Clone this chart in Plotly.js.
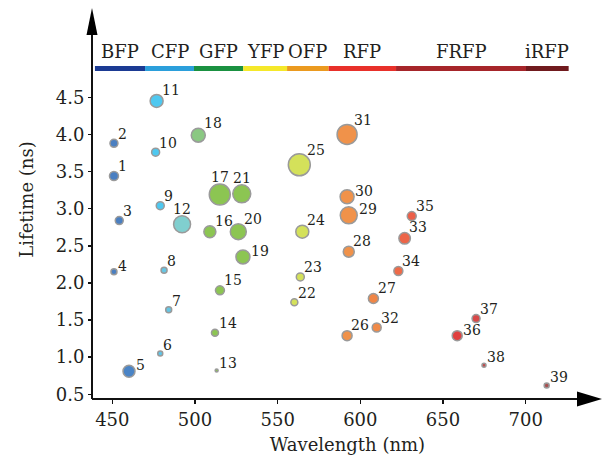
<!DOCTYPE html>
<html>
<head>
<meta charset="utf-8">
<script src="https://cdn.plot.ly/plotly-3.0.1.min.js"></script>
<style>html,body{margin:0;padding:0;background:#fff;}#chart{width:603px;height:456px;}</style>
</head>
<body>
<div id="chart"></div>
<script>
// ---- data ----
const labels = ['1','2','3','4','5','6','7','8','9','10','11','12','13','14','15','16','17','18','19','20',
  '21','22','23','24','25','26','27','28','29','30','31','32','33','34','35','36','37','38','39'];
const wavelength = [451, 451, 454.2, 451, 460.1, 479, 484.1, 481.3, 479, 476.2, 476.8, 492.2, 513.1, 512.1, 515.1,
  509, 515, 502, 529, 526.2, 528.3, 560.1, 563.7, 564.9, 563.1, 592, 607.9, 593, 593, 592, 592, 609.9, 626.8, 623,
  631.1, 658.6, 670, 674.8, 712.7];
const lifetime = [3.44, 3.88, 2.84, 2.15, 0.81, 1.05, 1.64, 2.17, 3.04, 3.76, 4.45, 2.79, 0.82, 1.33, 1.90, 2.69,
  3.19, 3.99, 2.35, 2.69, 3.20, 1.74, 2.08, 2.69, 3.59, 1.29, 1.79, 2.42, 2.91, 3.16, 4.00, 1.40, 2.60, 2.16, 2.90,
  1.29, 1.52, 0.89, 0.62];
const brightness = [9, 8, 8, 6, 12, 5, 6, 6, 8, 8, 13, 17, 3, 7, 9, 12, 21, 14, 14, 16, 18, 7, 8, 13, 22, 10, 10,
  11, 17, 14, 20, 9, 11.5, 9, 9, 10, 8, 4, 5];
const bandNames = ['BFP', 'CFP', 'GFP', 'YFP', 'OFP', 'RFP', 'FRFP', 'iRFP'];
const bandStart = [439.5, 469.8, 499.4, 529.2, 555.7, 580.9, 621.6, 700.2];
const bandEnd = [469.8, 499.4, 529.2, 555.7, 580.9, 621.6, 700.2, 726.0];
const xTicks = [450, 500, 550, 600, 650, 700];
const yTicks = [0.5, 1.0, 1.5, 2.0, 2.5, 3.0, 3.5, 4.0, 4.5];

// ---- styles ----
const pointColors = ['#4a7fc1','#4a7fc1','#4a7fc1','#4a7fc1','#4a84c6',
  '#5cc6ea','#66c6e4','#66c6e4','#4ec8f0','#4ec8f0','#4ec8f0','#80cfcf',
  '#8cc552','#8cc552','#8cc552','#8cc552','#8cc552','#8ac882','#8cc552','#8cc552','#8cc552',
  '#d4e15a','#d4e15a','#d4e15a','#d4e15a',
  '#f0924a','#f08646','#f0924a','#f0924a','#f0924a','#f0924a','#f08a48',
  '#ec6548','#ee6a48','#ec5f48','#e0403f','#d84848','#c04a4a','#a85050'];
const bandColors = ['#1b3a93', '#2b9fdb', '#1a9141', '#f5e82a', '#eb9a1f', '#e8302a', '#a6252a', '#701a1e'];
const labelPlace = ['ne','ne','ne','e','e','ne','ne','ne','ne','ne','ne','n','ne','ne','ne','ne','n','ne','e','ne',
  'n','ne','ne','ne','ne','ne','ne','ne','e','e','ne','ne','ne','ne','ne','e','ne','ne','ne'];

const W = 603, H = 456, ML = 92, MB = 57;
const PW = W - ML, PH = H - MB;
const px2x = p => (p - ML) / PW;
const py2y = p => (PH - p) / PH;
const TXT = '#231f20';
const FONT = 'DejaVu Serif';

const trace = {
  type: 'scatter', mode: 'markers',
  x: wavelength, y: lifetime,
  marker: { size: brightness, sizemode: 'diameter', sizeref: 1, color: pointColors,
    line: { color: '#9a9a9a', width: 1.5 }, opacity: 1 },
  hoverinfo: 'skip', cliponaxis: false
};

const annotations = [];
labels.forEach((t, i) => {
  const r = brightness[i] / 2 + 0.75;
  const pl = labelPlace[i];
  let a = { x: wavelength[i], y: lifetime[i], xref: 'x', yref: 'y', text: t, showarrow: false,
    font: { family: FONT, size: 14, color: TXT }, borderpad: 0, yanchor: 'bottom' };
  if (pl === 'ne') { a.xanchor = 'left'; a.xshift = 0.5 * r + 0.5; a.yshift = 0.75 * r - 3; }
  else if (pl === 'e') { a.xanchor = 'left'; a.xshift = r - 0.5; a.yshift = -3; }
  else { a.xanchor = 'center'; a.xshift = 0; a.yshift = r - 3; }
  annotations.push(a);
});
bandNames.forEach((n, i) => {
  annotations.push({ x: (bandStart[i] + bandEnd[i]) / 2, y: py2y(51), xref: 'x', yref: 'paper', text: n,
    showarrow: false, xanchor: 'center', yanchor: 'middle', font: { family: FONT, size: 18, color: TXT } });
});

const shapes = [];
bandNames.forEach((n, i) => {
  shapes.push({ type: 'line', xref: 'x', yref: 'paper', x0: bandStart[i], x1: bandEnd[i],
    y0: py2y(68.5), y1: py2y(68.5), line: { color: bandColors[i], width: 5 } });
});
// axis lines with arrows
shapes.push({ type: 'line', xref: 'paper', yref: 'paper', x0: 0, x1: 0, y0: 0, y1: py2y(30),
  line: { color: '#111', width: 2 } });
shapes.push({ type: 'line', xref: 'paper', yref: 'paper', x0: 0, x1: px2x(582), y0: 0, y1: 0,
  line: { color: '#111', width: 2 } });
shapes.push({ type: 'path', xref: 'paper', yref: 'paper',
  path: `M ${px2x(92)} ${py2y(8)} L ${px2x(86.5)} ${py2y(35)} L ${px2x(97.5)} ${py2y(35)} Z`,
  fillcolor: '#000', line: { width: 0 } });
shapes.push({ type: 'path', xref: 'paper', yref: 'paper',
  path: `M ${px2x(602)} ${py2y(399)} L ${px2x(577)} ${py2y(391.5)} L ${px2x(577)} ${py2y(406.5)} Z`,
  fillcolor: '#000', line: { width: 0 } });

const layout = {
  width: W, height: H,
  margin: { l: ML, r: 0, t: 0, b: MB, pad: 0 },
  paper_bgcolor: '#fff', plot_bgcolor: '#fff', showlegend: false,
  font: { family: FONT, color: TXT },
  xaxis: { range: [437.72, 746.77], tickvals: xTicks, ticks: 'outside', ticklen: 4, tickwidth: 1.5,
    tickcolor: '#111', showgrid: false, zeroline: false, showline: false, automargin: false,
    tickfont: { family: FONT, size: 18, color: TXT },
    title: { text: 'Wavelength (nm)', font: { family: FONT, size: 18, color: TXT }, standoff: 9 } },
  yaxis: { range: [0.4367, 5.81], tickvals: yTicks, tickformat: '.1f', ticks: 'outside', ticklen: 3,
    tickwidth: 1.5, tickcolor: '#111', showgrid: false, zeroline: false, showline: false, automargin: false,
    tickfont: { family: FONT, size: 18, color: TXT },
    title: { text: 'Lifetime (ns)', font: { family: FONT, size: 18, color: TXT }, standoff: 17 } },
  shapes: shapes,
  annotations: annotations
};

Plotly.newPlot('chart', [trace], layout, { displayModeBar: false, staticPlot: true });
</script>
</body>
</html>
